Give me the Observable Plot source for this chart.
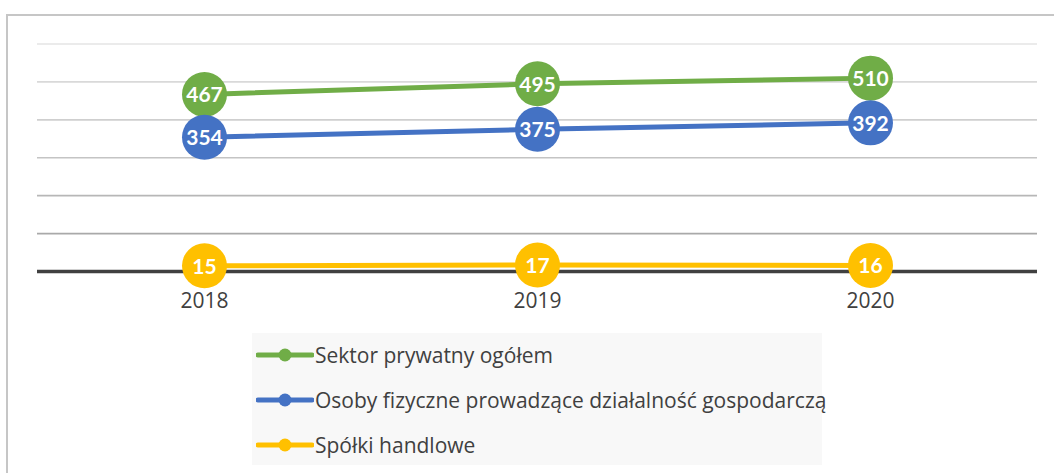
<!DOCTYPE html>
<html><head><meta charset="utf-8">
<script src="https://cdn.jsdelivr.net/npm/d3@7"></script>
<script src="https://cdn.jsdelivr.net/npm/@observablehq/plot@0.6"></script>
<style>
html,body{margin:0;padding:0;background:#fff;}
#wrap{position:relative;width:1054px;height:473px;overflow:hidden;font-family:"Open Sans",Lato,sans-serif;}
#frame{position:absolute;left:6px;top:14px;width:1100px;height:500px;border-left:2px solid #c6c6c6;border-top:2px solid #c6c6c6;}
#chart{position:absolute;left:0;top:0;}
#legend{position:absolute;left:252px;top:333px;width:570px;height:132px;background:#f8f8f8;}
.item{position:absolute;left:4px;height:30px;display:flex;align-items:center;color:#404040;font-size:21px;white-space:nowrap;}
.item svg{margin-right:1px;}
</style></head>
<body>
<div id="wrap"><div id="frame"></div><div id="chart"></div><div id="legend"></div></div>
<script>
const years = ["2018", "2019", "2020"];
const seriesNames = ["Sektor prywatny ogółem", "Osoby fizyczne prowadzące działalność gospodarczą", "Spółki handlowe"];
const sektor = [467, 495, 510];
const osoby = [354, 375, 392];
const spolki = [15, 17, 16];
const colors = ["#70AD47", "#4472C4", "#FFC000"];
const gridTicks = [100, 200, 300, 400, 500, 600];
const gridColors = ["#a9a9a9", "#b7b7b7", "#c4c4c4", "#cfcfcf", "#d9d9d9", "#e4e4e4"];

const seriesValues = [sektor, osoby, spolki];
const data = [];
seriesNames.forEach((s, i) => years.forEach((y, j) => data.push({series: s, year: y, value: seriesValues[i][j]})));
const grid = gridTicks.map((v, i) => ({v, c: gridColors[i]}));

const chart = Plot.plot({
  width: 1054, height: 473,
  marginLeft: 37, marginRight: 17, marginTop: 43.5, marginBottom: 202,
  style: {background: "transparent", fontFamily: "'Open Sans', sans-serif", fontSize: "21px"},
  x: {type: "point", domain: years, padding: 0.5, label: null},
  y: {domain: [0, 600], axis: null},
  color: {domain: seriesNames, range: colors},
  marks: [
    Plot.ruleY(grid, {y: "v", stroke: "c", strokeWidth: 1.6}),
    Plot.ruleY([0], {stroke: "#404040", strokeWidth: 3.5}),
    Plot.axisX({tickSize: 0, tickPadding: 22, fontSize: 21, fill: "#404040", label: null}),
    Plot.line(data, {x: "year", y: "value", z: "series", stroke: "series", strokeWidth: 5}),
    Plot.dot(data, {x: "year", y: "value", fill: "series", r: 22.5}),
    Plot.text(data, {x: "year", y: "value", text: d => String(d.value), fill: "white", fontSize: 21, fontWeight: "bold", fontFamily: "Lato, sans-serif", dy: 1})
  ]
});
document.getElementById("chart").appendChild(chart);

const legend = document.getElementById("legend");
seriesNames.forEach((s, i) => {
  const div = document.createElement("div");
  div.className = "item";
  div.style.top = (7 + i * 45) + "px";
  div.innerHTML = `<svg width="58" height="16"><line x1="2" y1="8" x2="56" y2="8" stroke="${colors[i]}" stroke-width="5" stroke-linecap="round"/><circle cx="29" cy="8" r="6.5" fill="${colors[i]}"/></svg><span>${s}</span>`;
  legend.appendChild(div);
});
</script>
</body></html>
